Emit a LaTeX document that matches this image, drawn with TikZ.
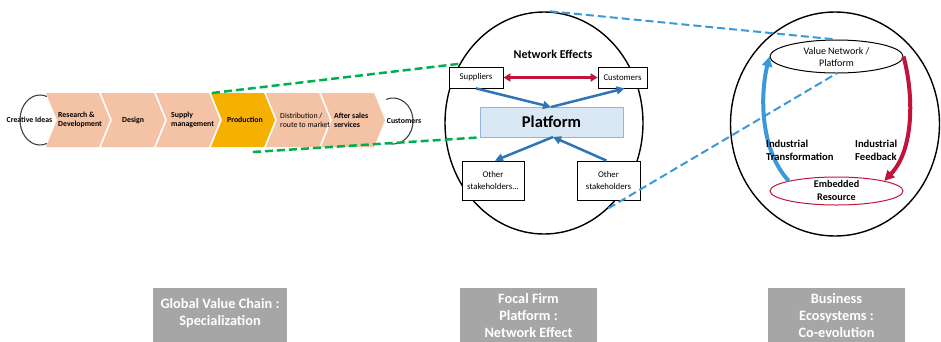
\documentclass[tikz,border=0pt]{standalone}
\usepackage{fontspec}
\setmainfont{Carlito}
\usetikzlibrary{arrows.meta,shapes.geometric}
\definecolor{peach}{HTML}{F4C2A4}
\definecolor{gold}{HTML}{F5B000}
\definecolor{gdash}{HTML}{00B050}
\definecolor{barrow}{HTML}{2E75B6}
\definecolor{bdash}{HTML}{3A9AD9}
\definecolor{crim}{HTML}{C0143C}
\definecolor{platfill}{HTML}{DAE8F5}
\definecolor{platline}{HTML}{8FB4DE}
\definecolor{labgray}{HTML}{A6A6A6}
\definecolor{loopgray}{HTML}{404040}
\tikzset{
  chevtext/.style={inner sep=0pt, anchor=west, align=left, font=\fontsize{7.8}{9.3}\selectfont\bfseries},
  looptext/.style={inner sep=0pt, font=\fontsize{7.8}{9}\selectfont\bfseries},
  loopline/.style={draw=loopgray, line width=1.1pt},
  gline/.style={draw=gdash, line width=2.5pt, dash pattern=on 8pt off 4pt},
  bline/.style={draw=bdash, line width=2pt, dash pattern=on 8pt off 4pt},
  bigcirc/.style={draw=black, line width=1.4pt, ellipse, inner sep=0pt},
  smallbox/.style={draw=black, line width=0.8pt, fill=white, inner sep=0pt, align=center, font=\fontsize{8.8}{11.8}\selectfont},
  barr/.style={draw=barrow, line width=2.5pt, -{Triangle[length=8pt,width=8pt]}},
  graybox/.style={fill=labgray, inner sep=0pt},
  graytext/.style={text=white, inner sep=0pt, align=center, font=\fontsize{14.3}{17}\selectfont\bfseries},
}
\begin{document}
\begin{tikzpicture}[x=1pt,y=-1pt]
\useasboundingbox (0,0) rectangle (941,341);
\fill[white] (0,0) rectangle (941,341);

% ---- value chain loops
\draw[loopline] (40,120) ++(70:20 and 25) arc[start angle=70,end angle=290,x radius=20,y radius=25];
\draw[loopline] (393,121) ++(-110:20 and 23) arc[start angle=-110,end angle=110,x radius=20,y radius=23];

% ---- chevrons
\foreach \i/\c in {0/peach,1/peach,2/peach,3/gold,4/peach,5/peach} {
  \pgfmathsetmacro\xo{46+55*\i}
  \fill[\c] (\xo,93) -- ++(53,0) -- ++(11,27) -- ++(-11,27) -- ++(-53,0) -- ++(11,-27) -- cycle;
}
\node[chevtext] (rd) at (58,120) {Research \&\\Development};
\node[chevtext] (design) at (122,120) {Design};
\node[chevtext] (supply) at (171,120) {Supply\\management};
\node[chevtext] (prod) at (227,120) {Production};
\node[chevtext, font=\fontsize{7.8}{9.3}\selectfont] (dist) at (280,120) {Distribution /\\route to market};
\node[chevtext] (after) at (334,120) {After sales\\services};
\node[looptext] (ci) at (29.5,120) {Creative Ideas};
\node[looptext] (cust) at (404,121) {Customers};

% ---- middle circle
\node[bigcirc, minimum width=198pt, minimum height=222pt] (mc) at (544,123) {};
\node[inner sep=0pt, font=\fontsize{12}{14}\selectfont\bfseries] (ne) at (553,54) {Network Effects};
\node[smallbox, minimum width=54pt, minimum height=21pt] (sup) at (476,77.5) {Suppliers};
\node[smallbox, minimum width=49pt, minimum height=21pt] (cus) at (622.5,77.5) {Customers};
\node[draw=platline, fill=platfill, line width=0.8pt, minimum width=143pt, minimum height=30pt, inner sep=0pt, font=\fontsize{16.5}{19}\selectfont\bfseries] (plat) at (551.5,122) {Platform};
\node[smallbox, minimum width=62pt, minimum height=39pt] (os1) at (493,180.5) {Other\\stakeholders...};
\node[smallbox, minimum width=63pt, minimum height=39pt] (os2) at (608.5,180.5) {Other\\stakeholders};

\draw[crim, line width=2.5pt, {Triangle[length=7pt,width=8pt]}-{Triangle[length=7pt,width=8pt]}] (sup.east) -- (cus.west);
\coordinate (ptop) at (551,107);
\coordinate (pbot) at (553,137);
\draw[barr] (sup.south) -- (ptop);
\draw[barr] (ptop) -- ([xshift=2pt]cus.south);
\draw[barr] (pbot) -- ([xshift=2pt]os1.north);
\draw[barr] ([xshift=-2pt]os2.north) -- (pbot);

% ---- green dashed connectors
\coordinate (g1) at (212,93);
\coordinate (g3) at (253,152);
\draw[gline] (g1) -- (mc.145);
\draw[gline] (g3) -- (plat.south west);

% ---- right circle
\node[bigcirc, minimum width=209pt, minimum height=224pt] (rc) at (835,124) {};
\node[draw=crim, line width=1pt, ellipse, fill=white, minimum width=133pt, minimum height=28pt, inner sep=0pt] (be) at (836.5,191) {};
\node[inner sep=0pt, align=center, font=\fontsize{10.2}{13}\selectfont\bfseries] (bet) at (836.5,190) {Embedded\\Resource};
\node[draw=black, line width=1pt, ellipse, fill=white, minimum width=133pt, minimum height=33pt, inner sep=0pt] (tv) at (836.5,56.5) {};
\node[inner sep=0pt, align=center, font=\fontsize{10}{12}\selectfont] (tvt) at (836.5,57.5) {Value Network /\\Platform};

\draw[bdash, line width=4pt, -{Triangle[length=10pt,width=10pt]}] (be.168) .. controls (760,150) and (760,95) .. (tv.west);
\draw[crim, line width=4pt, -{Triangle[length=10pt,width=10pt]}] (tv.east) .. controls (914,95) and (914,150) .. (be.12);

\node[inner sep=0pt, anchor=west, align=left, font=\fontsize{10.6}{13}\selectfont\bfseries] (itr) at (766,150.5) {Industrial\\Transformation};
\node[inner sep=0pt, anchor=west, align=left, font=\fontsize{10.6}{13}\selectfont\bfseries] (ifb) at (855,150.5) {Industrial\\Feedback};

% ---- blue dashed connectors
\draw[bline] ([xshift=6pt]mc.north) -- (tv.north);
\draw[bline] (mc.-53) -- (tv.south);

% ---- bottom labels
\node[graybox, minimum width=134pt, minimum height=70pt, anchor=north west] (gb1) at (153,288) {};
\node[graytext] (gt1) at (220,313) {Global Value Chain :\\Specialization};
\node[graybox, minimum width=137pt, minimum height=70pt, anchor=north west] (gb2) at (460,288) {};
\node[graytext] (gt2) at (528.5,316) {Focal Firm\\Platform :\\Network Effect};
\node[graybox, minimum width=137pt, minimum height=70pt, anchor=north west] (gb3) at (768,288) {};
\node[graytext] (gt3) at (836.5,316) {Business\\Ecosystems :\\Co-evolution};
\end{tikzpicture}
\end{document}
